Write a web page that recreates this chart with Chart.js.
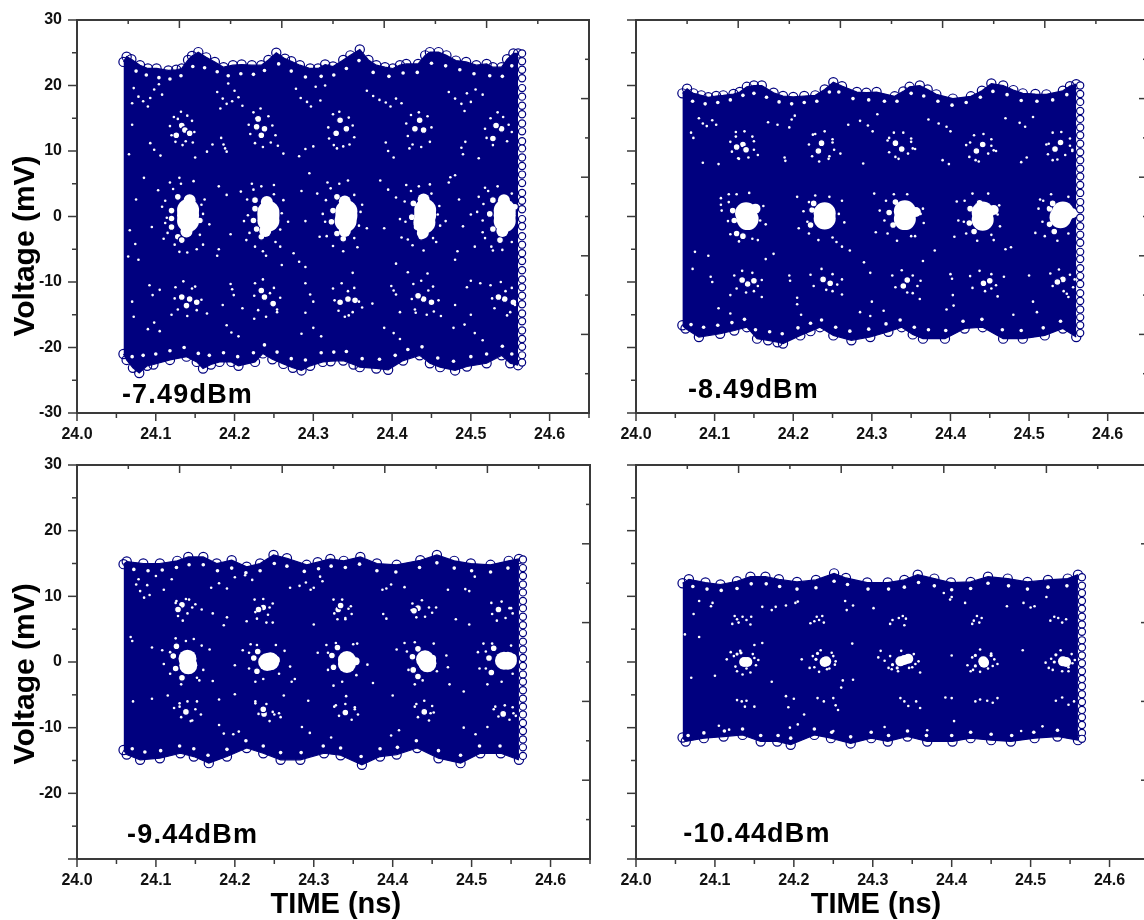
<!DOCTYPE html>
<html>
<head>
<meta charset="utf-8">
<title>Eye diagrams</title>
<script src="https://cdn.jsdelivr.net/npm/chart.js@4"></script>
<style>
  html, body { margin: 0; padding: 0; background: #fff; }
  #page { position: relative; width: 1144px; height: 920px; overflow: hidden; }
  canvas { position: absolute; }
</style>
</head>
<body>
<div id="page">
  <canvas id="c1" width="600" height="445" style="left:0;top:0"></canvas>
  <canvas id="c2" width="552" height="445" style="left:606px;top:0"></canvas>
  <canvas id="c3" width="600" height="475" style="left:0;top:445px"></canvas>
  <canvas id="c4" width="552" height="475" style="left:606px;top:445px"></canvas>
</div>
<script>
// axis ticks
const timeMajor = [24.0, 24.1, 24.2, 24.3, 24.4, 24.5, 24.6];
const timeMinor = [24.05, 24.15, 24.25, 24.35, 24.45, 24.55, 24.65];
const voltMajor = [-30, -20, -10, 0, 10, 20, 30];
const voltMinor = [-25, -15, -5, 5, 15, 25];
const otherMajor = [0, 1, 2, 3, 4, 5];
const otherMinor = [0.5, 1.5, 2.5, 3.5, 4.5];
const rightT = 24.565;

// -7.49 dBm
const p1Top = [[24.059,23.6],[24.063,24.4],[24.069,24.0],[24.080,23.1],[24.090,22.6],[24.101,22.6],[24.116,22.3],[24.126,22.4],[24.133,22.6],[24.141,23.9],[24.146,24.5],[24.154,25.1],[24.164,24.3],[24.175,23.6],[24.186,22.8],[24.198,23.1],[24.209,23.2],[24.222,23.1],[24.234,23.1],[24.243,23.9],[24.253,25.0],[24.264,24.1],[24.272,23.7],[24.283,23.1],[24.296,22.6],[24.306,22.6],[24.315,23.2],[24.325,22.9],[24.338,23.9],[24.347,24.6],[24.359,25.5],[24.370,23.9],[24.380,23.1],[24.391,22.8],[24.401,22.6],[24.410,23.1],[24.418,23.3],[24.433,23.3],[24.442,24.6],[24.448,25.1],[24.459,25.1],[24.469,24.6],[24.481,23.8],[24.494,23.6],[24.507,23.1],[24.520,23.3],[24.528,22.8],[24.539,22.8],[24.546,24.0],[24.554,24.9],[24.560,24.9]];
const p1Bottom = [[24.059,-21.0],[24.063,-21.9],[24.071,-23.1],[24.079,-23.9],[24.089,-22.8],[24.097,-22.6],[24.118,-21.9],[24.139,-21.4],[24.152,-22.2],[24.160,-23.2],[24.170,-22.6],[24.181,-22.2],[24.196,-22.2],[24.205,-22.8],[24.226,-22.2],[24.236,-20.9],[24.248,-21.8],[24.262,-22.5],[24.274,-23.1],[24.285,-23.5],[24.296,-22.8],[24.312,-22.2],[24.322,-22.1],[24.338,-22.0],[24.351,-22.6],[24.359,-23.0],[24.380,-23.2],[24.395,-23.4],[24.414,-22.0],[24.435,-21.2],[24.448,-22.4],[24.461,-23.0],[24.480,-23.5],[24.495,-22.9],[24.520,-22.4],[24.539,-21.2],[24.550,-22.4],[24.560,-22.7]];
const p1Right = [24.9,23.7,22.4,21.1,19.6,18.3,16.9,15.6,14.2,13.0,11.5,10.4,9.0,7.7,6.4,5.1,3.6,2.4,1.1,-0.4,-1.5,-3.0,-4.3,-5.6,-6.8,-8.2,-9.6,-10.8,-12.1,-13.4,-14.8,-16.0,-17.4,-18.7,-19.9,-21.2,-22.3];
const p1Eyes = [[24.141,1.0],[24.141,0.2],[24.141,-0.7],[24.243,0.7],[24.243,0.1],[24.243,-0.6],[24.342,0.8],[24.342,0.1],[24.341,-0.7],[24.442,1.0],[24.442,0.2],[24.441,-0.9],[24.543,0.9],[24.543,0.2],[24.543,-0.7]];
const p1Tips = [[24.143,2.5],[24.139,-2.3],[24.241,2.2],[24.239,-2.2],[24.340,2.3],[24.340,-2.2],[24.440,2.6],[24.439,-2.5],[24.542,2.5],[24.540,-2.2]];
const p1Rings = [[24.120,0.9],[24.120,-0.3],[24.120,-1.6],[24.128,-3.1],[24.133,-3.6],[24.128,3.0],[24.156,-0.6],[24.226,1.2],[24.224,-0.6],[24.228,-1.9],[24.234,-3.1],[24.226,2.5],[24.330,3.0],[24.325,0.9],[24.323,-0.8],[24.330,-2.6],[24.338,-3.4],[24.427,2.0],[24.425,-0.1],[24.431,-1.6],[24.437,-3.1],[24.528,2.5],[24.524,0.4],[24.528,-1.9],[24.537,-3.6],[24.556,1.5],[24.133,13.9],[24.126,12.4],[24.137,13.2],[24.143,12.7],[24.228,13.7],[24.238,13.4],[24.230,14.9],[24.234,12.4],[24.334,14.7],[24.342,13.4],[24.329,12.7],[24.429,13.4],[24.440,13.2],[24.435,14.7],[24.539,13.4],[24.528,11.9],[24.532,13.9],[24.143,-12.6],[24.133,-12.3],[24.152,-13.1],[24.139,-13.6],[24.238,-12.3],[24.249,-13.3],[24.234,-11.3],[24.344,-12.6],[24.334,-13.1],[24.353,-12.8],[24.440,-12.6],[24.450,-13.1],[24.433,-12.1],[24.543,-12.6],[24.554,-13.1],[24.535,-12.3]];
const p1Specks = [[24.072,19.6],[24.078,18.3],[24.084,17.6],[24.090,16.8],[24.093,18.1],[24.098,19.4],[24.104,20.2],[24.108,18.6],[24.070,17.3],[24.178,19.0],[24.185,18.0],[24.190,17.2],[24.197,17.6],[24.200,19.2],[24.205,18.2],[24.192,20.3],[24.182,16.5],[24.210,16.9],[24.278,19.5],[24.284,18.1],[24.292,17.5],[24.297,16.8],[24.303,19.8],[24.309,17.7],[24.315,20.0],[24.368,19.2],[24.376,18.4],[24.384,17.8],[24.392,17.4],[24.398,16.8],[24.405,18.0],[24.412,17.3],[24.472,19.0],[24.480,18.0],[24.488,17.2],[24.495,18.8],[24.500,17.5],[24.506,19.4],[24.515,18.6],[24.492,16.1],[24.186,11.0],[24.188,10.4],[24.190,9.9],[24.183,12.0],[24.098,10.2],[24.106,9.3],[24.093,11.2],[24.150,9.0],[24.165,9.9],[24.172,11.0],[24.290,10.3],[24.282,9.2],[24.300,10.7],[24.392,11.3],[24.395,10.0],[24.402,9.0],[24.488,10.5],[24.493,11.4],[24.490,9.5],[24.510,8.9],[24.255,10.8],[24.262,9.6],[24.103,4.0],[24.108,1.5],[24.112,-1.0],[24.110,-3.4],[24.118,5.2],[24.162,2.6],[24.168,-1.2],[24.160,-4.3],[24.130,5.9],[24.140,-5.5],[24.208,3.8],[24.212,-0.7],[24.215,-3.6],[24.222,5.0],[24.262,2.5],[24.268,-0.8],[24.258,-4.6],[24.240,-6.0],[24.250,4.8],[24.305,3.5],[24.312,0.4],[24.308,-3.1],[24.318,5.2],[24.362,1.8],[24.368,-1.8],[24.356,-4.7],[24.344,5.5],[24.405,2.9],[24.410,-0.4],[24.412,-3.2],[24.418,4.8],[24.460,1.6],[24.468,-0.7],[24.456,-3.9],[24.448,4.9],[24.472,5.2],[24.474,6.0],[24.510,3.0],[24.508,0.7],[24.515,-2.4],[24.518,4.4],[24.528,-5.2],[24.500,0.3],[24.505,-4.6],[24.065,-6.1],[24.074,-4.2],[24.078,-6.6],[24.178,-6.0],[24.180,-5.0],[24.260,-7.4],[24.275,-5.6],[24.282,-6.9],[24.290,-7.7],[24.405,-7.2],[24.420,-8.5],[24.445,-8.7],[24.480,-6.6],[24.483,-5.3],[24.350,-8.6],[24.092,-10.5],[24.096,-12.0],[24.105,-11.2],[24.195,-10.3],[24.197,-11.1],[24.199,-12.0],[24.290,-10.2],[24.296,-11.9],[24.300,-13.0],[24.399,-10.6],[24.402,-11.3],[24.405,-11.9],[24.495,-10.8],[24.500,-9.8],[24.512,-10.2],[24.120,-15.0],[24.165,-14.8],[24.225,-15.6],[24.254,-14.6],[24.340,-15.3],[24.362,-13.9],[24.430,-14.7],[24.462,-15.2],[24.090,-17.2],[24.098,-16.2],[24.105,-17.5],[24.190,-16.6],[24.196,-17.7],[24.205,-18.3],[24.285,-17.9],[24.300,-17.0],[24.310,-18.3],[24.390,-17.0],[24.402,-17.8],[24.410,-18.7],[24.478,-17.0],[24.492,-16.5],[24.505,-17.8],[24.515,-18.9]];
const p1Cluster = [[24.118,13.8],[24.120,12.4],[24.123,15.2],[24.125,11.4],[24.132,16.0],[24.134,10.9],[24.140,15.4],[24.146,14.6],[24.149,12.9],[24.147,11.3],[24.128,14.9],[24.138,11.5],[24.218,14.0],[24.220,12.6],[24.224,15.9],[24.226,11.2],[24.233,16.5],[24.236,10.6],[24.243,15.3],[24.248,13.9],[24.252,12.4],[24.246,11.3],[24.228,15.0],[24.319,13.6],[24.320,11.9],[24.325,15.6],[24.326,10.9],[24.333,16.0],[24.338,10.7],[24.345,15.1],[24.350,13.9],[24.352,12.1],[24.346,11.0],[24.330,10.4],[24.418,14.2],[24.420,12.3],[24.424,15.5],[24.426,11.0],[24.434,15.9],[24.437,10.6],[24.445,15.3],[24.450,13.6],[24.448,11.4],[24.422,10.4],[24.518,13.4],[24.520,12.0],[24.525,15.0],[24.528,10.9],[24.534,15.9],[24.541,15.2],[24.548,14.0],[24.546,11.5],[24.552,12.9],[24.125,-10.8],[24.124,-12.5],[24.128,-14.2],[24.135,-9.9],[24.140,-15.2],[24.150,-10.7],[24.158,-12.7],[24.152,-14.3],[24.146,-11.0],[24.226,-10.2],[24.225,-12.1],[24.230,-14.3],[24.236,-9.6],[24.240,-15.3],[24.250,-10.9],[24.258,-12.4],[24.254,-14.2],[24.245,-11.7],[24.325,-11.0],[24.327,-12.8],[24.332,-14.4],[24.336,-10.2],[24.345,-15.1],[24.352,-10.9],[24.358,-13.0],[24.350,-14.6],[24.344,-11.4],[24.427,-10.3],[24.425,-12.6],[24.429,-14.2],[24.437,-9.8],[24.444,-15.0],[24.452,-10.7],[24.459,-12.8],[24.453,-14.5],[24.446,-11.3],[24.525,-10.5],[24.527,-12.5],[24.530,-14.0],[24.538,-10.0],[24.546,-15.1],[24.552,-10.9],[24.556,-13.5],[24.550,-14.6],[24.544,-11.4],[24.112,2.4],[24.114,-0.2],[24.115,-2.5],[24.122,4.2],[24.124,-4.3],[24.132,5.0],[24.130,-5.4],[24.148,5.4],[24.152,-5.0],[24.160,0.4],[24.158,1.8],[24.156,-2.8],[24.216,2.6],[24.217,0.2],[24.219,-2.5],[24.224,4.1],[24.226,-4.6],[24.234,4.6],[24.236,-5.3],[24.250,3.4],[24.252,-3.9],[24.260,0.5],[24.258,-2.0],[24.316,2.5],[24.315,-0.8],[24.317,-3.0],[24.322,4.3],[24.325,-4.5],[24.333,5.0],[24.338,-5.3],[24.352,3.3],[24.352,-3.3],[24.360,0.7],[24.358,-1.4],[24.416,2.3],[24.417,-0.8],[24.420,-3.5],[24.424,3.9],[24.426,-4.4],[24.434,4.6],[24.440,-5.2],[24.450,3.5],[24.452,-3.3],[24.458,0.3],[24.461,-1.4],[24.516,1.9],[24.515,-0.6],[24.518,-3.3],[24.522,3.9],[24.526,-4.6],[24.534,4.6],[24.540,-5.1],[24.552,3.5],[24.552,-3.9],[24.070,14.0],[24.066,9.5],[24.075,2.6],[24.067,-2.1],[24.085,5.9],[24.095,-1.6],[24.180,4.6],[24.190,3.3],[24.195,-2.7],[24.285,3.9],[24.290,-0.7],[24.295,6.6],[24.385,5.5],[24.390,-1.8],[24.395,4.1],[24.485,2.6],[24.490,-1.5],[24.480,6.3],[24.480,-13.5],[24.070,-13.0],[24.072,-15.3],[24.185,-13.5],[24.210,-14.0],[24.290,-14.7],[24.375,-13.3],[24.410,-14.6],[24.500,-15.0]];
const p1Rim = [[24.075,22.2],[24.088,21.6],[24.104,21.2],[24.118,21.0],[24.132,21.5],[24.147,22.9],[24.162,22.7],[24.178,22.1],[24.192,21.5],[24.208,21.8],[24.224,21.7],[24.238,22.3],[24.256,23.3],[24.272,22.2],[24.290,21.3],[24.310,21.4],[24.326,21.6],[24.342,22.6],[24.358,23.8],[24.376,22.0],[24.396,21.4],[24.414,21.9],[24.432,22.0],[24.450,23.4],[24.468,23.0],[24.486,22.4],[24.504,21.8],[24.524,21.5],[24.540,21.4],[24.552,23.0],[24.070,-21.4],[24.084,-21.2],[24.100,-21.0],[24.118,-20.5],[24.136,-20.0],[24.154,-20.9],[24.168,-21.2],[24.186,-20.8],[24.204,-21.4],[24.224,-20.8],[24.238,-19.6],[24.254,-20.7],[24.272,-21.7],[24.290,-21.9],[24.310,-20.8],[24.326,-20.7],[24.342,-20.6],[24.362,-21.7],[24.384,-21.8],[24.404,-21.2],[24.420,-20.3],[24.438,-19.9],[24.458,-21.6],[24.478,-22.1],[24.500,-21.4],[24.520,-21.0],[24.540,-19.8],[24.552,-21.0]];

// -8.49 dBm
const p2Top = [[24.059,18.8],[24.065,19.5],[24.073,18.8],[24.083,18.5],[24.092,18.2],[24.102,18.4],[24.111,18.5],[24.124,18.7],[24.132,19.0],[24.141,19.8],[24.150,20.0],[24.160,20.0],[24.175,18.9],[24.187,18.4],[24.200,18.25],[24.214,18.4],[24.228,18.5],[24.240,19.4],[24.251,20.5],[24.262,19.9],[24.281,19.0],[24.293,18.9],[24.306,19.0],[24.329,18.35],[24.340,19.1],[24.348,19.8],[24.361,20.0],[24.371,19.4],[24.382,18.65],[24.403,18.0],[24.426,18.35],[24.440,19.2],[24.452,20.3],[24.467,20.0],[24.480,19.3],[24.492,18.8],[24.508,18.7],[24.522,18.65],[24.543,19.2],[24.552,19.9],[24.560,20.2]];
const p2Bottom = [[24.059,-16.6],[24.063,-17.1],[24.080,-18.4],[24.107,-17.9],[24.125,-17.4],[24.141,-16.9],[24.154,-18.65],[24.168,-18.9],[24.180,-19.2],[24.187,-19.4],[24.209,-18.15],[24.222,-17.5],[24.234,-16.9],[24.251,-18.15],[24.274,-18.9],[24.298,-18.4],[24.321,-17.6],[24.338,-16.9],[24.352,-18.0],[24.365,-18.65],[24.393,-18.65],[24.418,-17.1],[24.441,-16.9],[24.467,-18.65],[24.492,-18.65],[24.520,-18.15],[24.543,-17.1],[24.560,-18.4]];
const p2Right = [20.0,18.7,17.5,16.1,14.9,13.6,12.4,11.1,9.8,8.6,7.3,6.1,4.8,3.6,2.2,1.1,-0.2,-1.5,-2.8,-4.0,-5.4,-6.5,-7.9,-9.1,-10.3,-11.7,-12.9,-14.2,-15.4,-16.6,-17.8];
const p2Eyes = [[24.140,0.5],[24.142,-0.4],[24.240,0.5],[24.240,-0.3],[24.342,0.8],[24.342,-0.4],[24.441,0.6],[24.441,-0.5],[24.543,0.6],[24.540,-0.1]];
const p2Tips = [[24.152,1.2],[24.455,1.0],[24.356,0.7],[24.555,0.5]];
const p2Rings = [[24.123,0.9],[24.125,-0.6],[24.128,-2.6],[24.136,-3.0],[24.224,1.0],[24.222,-1.3],[24.226,2.0],[24.322,0.6],[24.327,-1.3],[24.330,2.2],[24.425,1.2],[24.424,-1.0],[24.430,-2.3],[24.437,2.1],[24.526,1.2],[24.526,-1.2],[24.532,-2.3],[24.530,2.0],[24.136,11.0],[24.128,10.6],[24.140,10.2],[24.232,10.0],[24.236,11.2],[24.330,11.2],[24.338,10.3],[24.433,10.0],[24.441,11.0],[24.533,10.3],[24.540,11.3],[24.142,-10.3],[24.135,-9.7],[24.150,-9.8],[24.238,-9.6],[24.247,-10.2],[24.345,-9.7],[24.340,-10.6],[24.442,-10.2],[24.450,-9.8],[24.543,-9.6],[24.536,-10.0]];
const p2Specks = [[24.080,15.0],[24.085,14.2],[24.090,13.8],[24.097,14.7],[24.102,14.0],[24.070,12.8],[24.073,12.0],[24.168,14.4],[24.180,14.0],[24.195,13.6],[24.198,14.8],[24.202,15.4],[24.270,14.0],[24.285,14.6],[24.295,13.9],[24.301,13.0],[24.307,15.6],[24.372,14.8],[24.385,14.2],[24.395,13.7],[24.400,13.0],[24.470,15.0],[24.488,14.3],[24.495,13.7],[24.505,15.2],[24.127,12.2],[24.150,11.5],[24.130,8.9],[24.155,9.4],[24.225,12.5],[24.250,11.3],[24.245,8.8],[24.260,9.6],[24.322,12.0],[24.350,11.4],[24.330,9.1],[24.355,10.3],[24.425,11.3],[24.452,11.8],[24.432,8.6],[24.458,10.0],[24.525,11.1],[24.552,11.9],[24.530,8.6],[24.555,10.2],[24.085,8.2],[24.105,8.0],[24.190,8.5],[24.189,9.0],[24.289,8.1],[24.390,8.6],[24.398,8.0],[24.490,8.3],[24.497,9.0],[24.108,2.8],[24.108,1.8],[24.109,0.9],[24.118,3.4],[24.162,1.6],[24.165,-1.2],[24.155,-3.6],[24.205,3.0],[24.213,0.8],[24.207,-1.8],[24.262,2.4],[24.265,-0.9],[24.255,-3.9],[24.303,3.5],[24.310,0.9],[24.305,-2.4],[24.365,1.2],[24.366,-1.0],[24.355,-3.0],[24.408,2.3],[24.410,-0.6],[24.405,-3.1],[24.462,1.7],[24.463,-1.5],[24.455,-3.6],[24.514,2.6],[24.512,1.2],[24.508,-2.5],[24.075,-5.4],[24.072,-8.0],[24.092,-6.0],[24.165,-6.5],[24.175,-5.7],[24.262,-4.6],[24.272,-5.2],[24.290,-7.0],[24.365,-6.8],[24.380,-5.2],[24.470,-5.0],[24.477,-4.7],[24.095,-9.2],[24.097,-10.0],[24.195,-9.0],[24.196,-9.8],[24.298,-8.6],[24.400,-8.8],[24.402,-9.5],[24.500,-9.0],[24.120,-12.0],[24.160,-12.3],[24.205,-12.4],[24.262,-11.9],[24.300,-13.0],[24.361,-12.6],[24.403,-12.0],[24.460,-12.2],[24.505,-13.0],[24.550,-12.3],[24.105,-14.0],[24.120,-14.8],[24.205,-13.4],[24.210,-15.0],[24.285,-14.6],[24.298,-15.2],[24.315,-14.4],[24.395,-14.2],[24.404,-13.6],[24.480,-15.0],[24.510,-14.6]];
const p2Cluster = [[24.120,11.4],[24.122,9.9],[24.127,12.9],[24.131,8.8],[24.138,13.0],[24.143,9.0],[24.148,12.2],[24.150,10.2],[24.220,11.0],[24.224,9.2],[24.228,12.6],[24.233,8.4],[24.240,13.0],[24.246,9.2],[24.250,11.8],[24.252,10.2],[24.320,11.6],[24.322,9.8],[24.328,12.8],[24.334,8.8],[24.340,12.8],[24.346,9.6],[24.350,11.9],[24.352,10.4],[24.420,10.9],[24.424,9.1],[24.430,12.4],[24.436,8.4],[24.442,12.6],[24.448,9.6],[24.452,10.8],[24.455,10.1],[24.522,11.0],[24.524,9.5],[24.530,12.8],[24.536,8.7],[24.541,12.9],[24.546,9.4],[24.552,10.8],[24.555,10.0],[24.125,-9.0],[24.128,-11.0],[24.135,-8.3],[24.140,-11.6],[24.148,-8.6],[24.155,-10.6],[24.150,-11.4],[24.160,-9.7],[24.222,-8.9],[24.226,-10.6],[24.236,-8.0],[24.242,-11.2],[24.250,-8.8],[24.256,-10.4],[24.250,-11.4],[24.262,-9.6],[24.326,-9.0],[24.330,-10.8],[24.338,-8.2],[24.345,-11.6],[24.352,-9.0],[24.358,-10.6],[24.352,-11.7],[24.362,-9.8],[24.425,-9.1],[24.428,-10.9],[24.437,-8.3],[24.444,-11.4],[24.452,-8.8],[24.458,-10.5],[24.452,-11.0],[24.468,-9.2],[24.527,-8.7],[24.530,-10.6],[24.538,-8.1],[24.544,-11.4],[24.552,-8.9],[24.556,-10.8],[24.548,-11.8],[24.558,-9.6],[24.118,2.2],[24.117,-0.7],[24.120,-2.7],[24.128,3.4],[24.131,-3.8],[24.144,3.6],[24.148,-3.4],[24.158,-0.6],[24.220,2.2],[24.218,-0.8],[24.220,-2.6],[24.228,3.2],[24.232,-3.6],[24.246,3.0],[24.250,-3.2],[24.258,0.4],[24.318,2.4],[24.316,-0.6],[24.320,-2.6],[24.328,3.4],[24.332,-3.7],[24.345,3.4],[24.350,-3.0],[24.362,0.4],[24.418,2.4],[24.417,-0.8],[24.420,-2.6],[24.428,3.5],[24.434,-3.7],[24.448,3.5],[24.452,-2.8],[24.460,0.3],[24.518,2.4],[24.517,-0.8],[24.520,-3.0],[24.528,3.4],[24.536,-3.7],[24.550,3.0],[24.550,-2.6]];
const p2Rim = [[24.072,17.6],[24.088,17.2],[24.104,17.4],[24.120,17.8],[24.136,18.5],[24.150,18.8],[24.166,18.2],[24.182,17.5],[24.198,17.2],[24.214,17.4],[24.230,17.6],[24.246,19.0],[24.258,19.0],[24.276,18.0],[24.296,17.8],[24.316,17.6],[24.332,17.6],[24.350,18.8],[24.366,18.4],[24.384,17.6],[24.402,17.0],[24.420,17.4],[24.438,18.2],[24.454,19.1],[24.472,18.6],[24.490,17.7],[24.510,17.6],[24.530,17.8],[24.548,18.6],[24.070,-16.5],[24.086,-16.9],[24.104,-16.6],[24.122,-16.2],[24.138,-15.7],[24.152,-17.3],[24.170,-17.6],[24.186,-17.9],[24.206,-17.0],[24.222,-16.3],[24.236,-15.8],[24.254,-16.9],[24.272,-17.5],[24.296,-17.2],[24.318,-16.4],[24.336,-15.8],[24.354,-16.9],[24.372,-17.3],[24.394,-17.4],[24.416,-16.0],[24.440,-15.7],[24.466,-17.3],[24.490,-17.4],[24.518,-17.0],[24.540,-16.0]];

// -9.44 dBm
const p3Top = [[24.059,14.9],[24.063,15.3],[24.084,15.0],[24.105,15.0],[24.127,15.4],[24.141,16.0],[24.160,16.0],[24.177,15.0],[24.196,15.5],[24.215,14.5],[24.232,15.0],[24.249,16.3],[24.266,15.8],[24.291,14.8],[24.305,15.2],[24.321,15.7],[24.338,15.4],[24.359,16.0],[24.380,15.0],[24.405,14.8],[24.435,15.5],[24.456,16.3],[24.478,15.4],[24.499,15.0],[24.524,14.8],[24.547,15.4],[24.560,15.7]];
const p3Bottom = [[24.059,-13.4],[24.063,-14.1],[24.080,-14.9],[24.105,-14.65],[24.131,-13.9],[24.148,-14.4],[24.167,-15.4],[24.190,-14.4],[24.215,-13.1],[24.236,-13.9],[24.258,-14.9],[24.283,-14.9],[24.313,-13.9],[24.334,-14.2],[24.361,-15.66],[24.384,-14.4],[24.405,-14.1],[24.431,-13.1],[24.458,-14.65],[24.486,-15.4],[24.511,-13.9],[24.537,-13.9],[24.560,-14.9]];
const p3Right = [15.6,14.3,13.1,11.8,10.6,9.3,8.2,6.9,5.6,4.4,3.1,1.9,0.6,-0.6,-1.9,-3.0,-4.3,-5.6,-6.8,-8.0,-9.3,-10.5,-11.8,-13.0,-14.3];
const p3Eyes = [[24.140,0.5],[24.141,-0.5],[24.241,0.0],[24.245,0.1],[24.342,0.3],[24.342,-0.3],[24.441,0.4],[24.444,-0.2],[24.541,0.2],[24.546,0.2]];
const p3Tips = [[24.252,0.3],[24.353,0.1],[24.552,0.6],[24.450,0.5]];
const p3Rings = [[24.122,0.9],[24.125,-1.0],[24.133,-2.4],[24.126,2.4],[24.224,0.6],[24.228,-1.4],[24.229,1.6],[24.323,1.0],[24.325,-0.8],[24.330,2.2],[24.425,0.8],[24.426,-1.2],[24.432,-2.2],[24.432,2.0],[24.522,0.6],[24.525,-1.6],[24.528,2.1],[24.133,8.7],[24.128,8.0],[24.236,8.3],[24.230,8.0],[24.331,8.0],[24.334,8.6],[24.432,8.2],[24.427,7.8],[24.534,8.0],[24.138,-7.6],[24.237,-7.9],[24.236,-7.2],[24.340,-7.7],[24.440,-7.6],[24.540,-7.9]];
const p3Specks = [[24.075,11.8],[24.080,10.8],[24.089,11.7],[24.092,10.2],[24.085,9.8],[24.078,12.6],[24.100,13.1],[24.120,12.6],[24.110,11.0],[24.170,11.3],[24.180,12.0],[24.190,11.2],[24.200,12.9],[24.213,13.2],[24.222,12.5],[24.270,11.3],[24.282,11.6],[24.290,12.1],[24.296,11.0],[24.300,11.3],[24.311,12.3],[24.308,13.0],[24.387,11.0],[24.392,11.2],[24.398,11.8],[24.415,11.4],[24.470,11.0],[24.492,11.1],[24.497,10.8],[24.504,13.0],[24.125,9.0],[24.138,9.6],[24.150,8.8],[24.225,9.5],[24.248,8.9],[24.325,9.5],[24.347,8.5],[24.425,8.9],[24.455,8.3],[24.525,9.0],[24.550,8.2],[24.158,8.0],[24.172,7.4],[24.190,6.8],[24.186,5.6],[24.215,6.2],[24.248,6.0],[24.300,5.7],[24.340,6.5],[24.388,7.3],[24.392,6.6],[24.480,6.5],[24.497,5.7],[24.068,3.8],[24.070,3.2],[24.095,2.2],[24.108,1.8],[24.138,3.2],[24.158,2.5],[24.168,1.9],[24.160,-1.2],[24.210,1.8],[24.220,2.7],[24.263,1.7],[24.270,-0.7],[24.200,-0.5],[24.305,1.4],[24.316,2.6],[24.355,2.8],[24.368,-0.4],[24.405,1.9],[24.415,2.9],[24.468,1.0],[24.470,-0.8],[24.508,1.5],[24.515,2.8],[24.110,-0.3],[24.155,-2.8],[24.172,-2.9],[24.226,-3.0],[24.272,-3.0],[24.276,-2.6],[24.325,-3.6],[24.375,-3.2],[24.428,-3.4],[24.472,-3.4],[24.510,-1.0],[24.520,-3.4],[24.095,-5.6],[24.115,-5.1],[24.180,-5.7],[24.200,-4.9],[24.262,-5.1],[24.293,-5.9],[24.341,-5.2],[24.400,-5.1],[24.490,-4.5],[24.071,-6.0],[24.123,-7.0],[24.130,-6.8],[24.152,-6.0],[24.157,-8.0],[24.226,-6.3],[24.250,-8.0],[24.258,-8.4],[24.326,-6.8],[24.352,-7.2],[24.430,-6.4],[24.448,-7.8],[24.528,-7.2],[24.553,-7.8],[24.180,-9.6],[24.186,-10.9],[24.198,-11.0],[24.205,-10.6],[24.285,-9.9],[24.295,-10.8],[24.322,-11.5],[24.398,-11.2],[24.408,-10.4],[24.490,-10.0],[24.505,-11.0],[24.520,-9.9]];
const p3Cluster = [[24.126,9.3],[24.128,7.0],[24.134,6.3],[24.140,7.4],[24.142,9.5],[24.146,8.3],[24.226,7.6],[24.228,6.6],[24.236,9.6],[24.240,6.0],[24.244,8.3],[24.242,7.2],[24.326,7.4],[24.330,6.5],[24.336,9.5],[24.340,6.7],[24.344,8.1],[24.348,7.3],[24.424,7.9],[24.430,6.8],[24.437,9.4],[24.441,6.9],[24.446,8.3],[24.450,7.5],[24.526,7.3],[24.532,6.3],[24.538,9.2],[24.543,6.7],[24.548,8.2],[24.552,7.4],[24.130,-6.3],[24.132,-8.4],[24.140,-6.0],[24.146,-8.9],[24.150,-7.2],[24.144,-9.0],[24.226,-6.0],[24.230,-7.9],[24.240,-6.4],[24.248,-7.6],[24.244,-9.0],[24.256,-7.8],[24.328,-6.6],[24.332,-8.2],[24.340,-6.4],[24.348,-8.8],[24.352,-6.9],[24.356,-8.0],[24.428,-6.8],[24.432,-8.4],[24.440,-5.9],[24.446,-8.9],[24.450,-6.7],[24.452,-7.7],[24.530,-6.8],[24.534,-8.3],[24.542,-6.6],[24.548,-8.8],[24.552,-6.9],[24.556,-8.2],[24.118,1.5],[24.118,-1.8],[24.125,3.6],[24.132,-3.4],[24.148,3.5],[24.152,-2.4],[24.218,1.4],[24.218,-1.0],[24.228,2.6],[24.236,-2.6],[24.252,2.6],[24.256,-1.8],[24.318,1.4],[24.318,-1.2],[24.328,2.9],[24.336,-3.0],[24.350,2.7],[24.354,-2.0],[24.418,1.6],[24.420,-1.2],[24.428,3.0],[24.438,-2.8],[24.452,2.8],[24.456,-1.4],[24.518,1.6],[24.518,-1.0],[24.526,2.8],[24.538,-3.0],[24.550,2.5],[24.552,-1.8]];
const p3Rim = [[24.072,14.1],[24.090,13.9],[24.108,14.0],[24.126,14.4],[24.142,14.8],[24.160,14.8],[24.178,13.9],[24.196,14.3],[24.214,13.6],[24.232,13.9],[24.250,15.0],[24.266,14.6],[24.288,13.8],[24.306,14.2],[24.322,14.6],[24.340,14.4],[24.358,14.9],[24.380,13.9],[24.404,13.7],[24.434,14.4],[24.456,15.1],[24.478,14.3],[24.500,13.9],[24.524,13.7],[24.546,14.3],[24.070,-13.2],[24.086,-13.7],[24.106,-13.5],[24.130,-12.8],[24.148,-13.2],[24.166,-14.2],[24.190,-13.3],[24.214,-12.0],[24.236,-12.8],[24.258,-13.8],[24.284,-13.8],[24.312,-12.8],[24.334,-13.1],[24.360,-14.4],[24.384,-13.2],[24.406,-13.0],[24.430,-12.0],[24.458,-13.5],[24.486,-14.2],[24.510,-12.8],[24.536,-12.8]];

// -10.44 dBm
const p4Top = [[24.059,12.0],[24.067,12.6],[24.088,12.1],[24.107,11.8],[24.128,12.3],[24.145,13.0],[24.164,13.0],[24.181,12.6],[24.204,12.2],[24.228,12.5],[24.251,13.5],[24.266,12.8],[24.293,12.1],[24.319,12.1],[24.340,12.5],[24.357,13.3],[24.378,12.7],[24.399,12.1],[24.424,12.2],[24.446,13.0],[24.471,12.7],[24.496,12.2],[24.522,12.5],[24.547,12.7],[24.560,13.3]];
const p4Bottom = [[24.059,-11.5],[24.063,-12.1],[24.086,-11.6],[24.111,-11.35],[24.135,-11.1],[24.158,-12.1],[24.179,-12.1],[24.196,-12.6],[24.226,-11.1],[24.247,-11.6],[24.272,-12.4],[24.298,-11.6],[24.319,-12.1],[24.344,-11.35],[24.369,-12.1],[24.401,-12.1],[24.424,-11.6],[24.450,-11.9],[24.475,-12.1],[24.505,-11.6],[24.534,-11.35],[24.560,-11.9]];
const p4Right = [12.9,11.6,10.5,9.3,8.1,6.9,5.7,4.6,3.3,2.2,1.0,-0.2,-1.4,-2.6,-3.7,-4.9,-6.1,-7.3,-8.4,-9.6,-10.8,-11.7];
const p4Eyes = [[24.137,0.0],[24.141,0.0],[24.239,0.0],[24.241,0.1],[24.335,0.1],[24.340,0.3],[24.345,0.5],[24.440,0.1],[24.441,-0.1],[24.541,0.1],[24.545,0.0]];
const p4Tips = [[24.128,1.2],[24.133,1.4],[24.230,1.3],[24.228,0.4],[24.325,-0.4],[24.331,-0.9],[24.430,1.0],[24.430,-0.6],[24.450,1.0],[24.532,1.1],[24.530,0.0]];
const p4Rings = [];
const p4Specks = [[24.080,9.3],[24.097,9.0],[24.095,8.5],[24.073,7.3],[24.125,7.0],[24.128,6.5],[24.130,6.0],[24.135,6.9],[24.140,6.4],[24.145,5.7],[24.122,5.8],[24.146,6.9],[24.226,6.2],[24.229,6.9],[24.232,6.4],[24.236,7.0],[24.221,5.9],[24.238,6.0],[24.325,6.4],[24.333,6.7],[24.338,7.0],[24.342,6.6],[24.322,5.8],[24.340,5.6],[24.428,6.3],[24.432,7.0],[24.435,6.0],[24.426,5.8],[24.438,6.7],[24.525,6.3],[24.530,6.9],[24.535,6.7],[24.540,6.0],[24.545,6.5],[24.520,9.9],[24.470,8.5],[24.491,9.0],[24.500,8.3],[24.505,8.5],[24.390,10.5],[24.398,9.5],[24.400,9.9],[24.417,9.0],[24.265,9.3],[24.275,8.6],[24.267,7.9],[24.301,8.2],[24.177,8.4],[24.190,8.6],[24.205,9.2],[24.202,9.0],[24.160,8.4],[24.172,7.9],[24.062,4.2],[24.080,3.8],[24.150,2.6],[24.160,2.9],[24.120,1.5],[24.115,0.4],[24.128,-1.4],[24.135,-1.9],[24.145,-1.6],[24.150,0.6],[24.155,0.3],[24.210,0.4],[24.220,-0.9],[24.232,-1.5],[24.245,-1.0],[24.250,0.9],[24.253,0.1],[24.307,0.7],[24.315,0.2],[24.320,-0.9],[24.332,-1.4],[24.350,-0.8],[24.358,0.1],[24.360,-1.6],[24.420,-0.5],[24.424,-1.4],[24.436,-1.5],[24.452,-0.6],[24.458,-0.3],[24.519,-0.1],[24.523,-0.9],[24.540,-1.4],[24.548,-1.4],[24.553,-0.2],[24.310,1.7],[24.274,2.8],[24.400,1.0],[24.490,1.8],[24.070,-2.4],[24.100,-2.1],[24.172,-3.0],[24.262,-2.8],[24.275,-2.7],[24.260,-3.9],[24.128,-5.8],[24.134,-6.0],[24.140,-5.9],[24.138,-6.8],[24.150,-6.8],[24.230,-5.5],[24.238,-6.0],[24.250,-5.5],[24.253,-6.6],[24.256,-7.3],[24.335,-5.5],[24.340,-6.0],[24.345,-6.7],[24.355,-6.0],[24.360,-7.0],[24.430,-6.0],[24.436,-5.7],[24.445,-5.9],[24.452,-6.2],[24.458,-5.5],[24.532,-5.9],[24.540,-5.4],[24.548,-6.5],[24.555,-6.0],[24.190,-5.2],[24.193,-6.9],[24.200,-5.6],[24.392,-5.4],[24.400,-5.5],[24.213,-8.0],[24.105,-9.7],[24.118,-10.3],[24.195,-10.0],[24.205,-9.5],[24.250,-10.5],[24.315,-9.9],[24.369,-10.4],[24.403,-9.0],[24.488,-10.5],[24.515,-9.8]];
const p4Cluster = [[24.124,0.9],[24.126,-0.7],[24.132,1.7],[24.140,-1.0],[24.148,1.2],[24.152,-0.5],[24.224,0.9],[24.226,-0.8],[24.234,1.8],[24.242,-1.1],[24.248,1.4],[24.252,-0.4],[24.322,0.9],[24.324,-1.1],[24.336,1.7],[24.346,-0.9],[24.352,1.2],[24.354,-0.3],[24.426,0.7],[24.427,-1.2],[24.436,1.9],[24.446,-1.0],[24.450,1.3],[24.454,0.4],[24.526,0.5],[24.528,-1.2],[24.538,1.8],[24.548,-0.8],[24.552,1.2],[24.556,0.3]];
const p4Rim = [[24.072,11.5],[24.090,11.1],[24.108,10.9],[24.128,11.2],[24.146,11.9],[24.165,11.9],[24.182,11.5],[24.204,11.1],[24.228,11.3],[24.251,12.3],[24.268,11.8],[24.294,11.1],[24.320,11.1],[24.340,11.4],[24.358,12.1],[24.378,11.6],[24.400,11.0],[24.424,11.2],[24.446,12.0],[24.472,11.6],[24.496,11.1],[24.522,11.4],[24.546,11.6],[24.066,-11.2],[24.086,-10.8],[24.112,-10.5],[24.135,-10.2],[24.158,-11.2],[24.180,-11.2],[24.196,-11.6],[24.226,-10.2],[24.248,-10.7],[24.272,-11.4],[24.298,-10.7],[24.320,-11.2],[24.344,-10.5],[24.368,-11.2],[24.400,-11.2],[24.424,-10.7],[24.450,-11.0],[24.476,-11.2],[24.504,-10.7],[24.534,-10.4]];

const navy = '#00007f';
const axisColor = '#3a3a3a';
const textColor = '#111';

const toPoints = pts => pts.map(([x, y]) => ({ x, y }));

// tick marks: left and bottom go out, top and right go in
const tickMarks = {
    id: 'tickMarks',
    afterDraw(chart) {
        const { ctx, chartArea: a, scales } = chart;
        const mark = (x1, y1, x2, y2) => {
            ctx.beginPath();
            ctx.moveTo(x1, y1);
            ctx.lineTo(x2, y2);
            ctx.stroke();
        };
        ctx.save();
        ctx.strokeStyle = axisColor;
        ctx.lineWidth = 1.5;
        timeMajor.forEach(v => { const x = scales.x.getPixelForValue(v); mark(x, a.bottom, x, a.bottom + 8); });
        timeMinor.forEach(v => { const x = scales.x.getPixelForValue(v); mark(x, a.bottom, x, a.bottom + 5); });
        voltMajor.forEach(v => { const y = scales.y.getPixelForValue(v); mark(a.left - 9, y, a.left, y); });
        voltMinor.forEach(v => { const y = scales.y.getPixelForValue(v); mark(a.left - 5, y, a.left, y); });
        otherMajor.forEach(v => {
            const x = scales.x2.getPixelForValue(v), y = scales.y2.getPixelForValue(v);
            mark(x, a.top, x, a.top + 8);
            mark(a.right - 8, y, a.right, y);
        });
        otherMinor.forEach(v => {
            const x = scales.x2.getPixelForValue(v), y = scales.y2.getPixelForValue(v);
            mark(x, a.top, x, a.top + 4);
            mark(a.right - 4, y, a.right, y);
        });
        ctx.restore();
    }
};

// power label and the axis titles
const panelText = {
    id: 'panelText',
    afterDraw(chart, args, opts) {
        const { ctx, scales } = chart;
        ctx.save();
        ctx.fillStyle = '#000';
        ctx.textBaseline = 'alphabetic';
        ctx.textAlign = 'left';
        ctx.letterSpacing = '1.2px';
        ctx.font = 'bold 27px "Liberation Sans"';
        ctx.fillText(opts.power, scales.x.getPixelForValue(opts.powerAt[0]), scales.y.getPixelForValue(opts.powerAt[1]));
        ctx.letterSpacing = '0px';
        ctx.font = 'bold 29px "Liberation Sans"';
        ctx.textAlign = 'center';
        if (opts.timeAt) {
            ctx.fillText('TIME (ns)', scales.x.getPixelForValue(opts.timeAt), chart.height - 7);
        }
        if (opts.voltAt !== undefined) {
            ctx.font = 'bold 30px "Liberation Sans"';
            ctx.translate(34, scales.y.getPixelForValue(opts.voltAt));
            ctx.rotate(-Math.PI / 2);
            ctx.fillText('Voltage (mV)', 0, 0);
        }
        ctx.restore();
    }
};

function drawPanel(id, d) {
    const canvas = document.getElementById(id);
    const plotLeft = d.left ? 77 : 30;
    const fixedSide = (scale, size) => { scale.width = size; scale.paddingTop = 0; scale.paddingBottom = 0; };
    const fixedEnd = (scale, size) => { scale.height = size; scale.paddingLeft = 0; scale.paddingRight = 0; };
    new Chart(canvas, {
        type: 'scatter',
        data: {
            datasets: [
                { data: toPoints(d.top), showLine: true, fill: '+1', backgroundColor: navy, borderColor: navy, borderWidth: 1.2,
                  pointRadius: 4.6, pointBorderWidth: 1.2, pointBorderColor: navy, pointBackgroundColor: 'rgba(0,0,0,0)', order: 9 },
                { data: toPoints(d.bottom), showLine: true, fill: false, borderColor: navy, borderWidth: 1.2,
                  pointRadius: 4.6, pointBorderWidth: 1.2, pointBorderColor: navy, pointBackgroundColor: 'rgba(0,0,0,0)', order: 8 },
                { data: toPoints(d.rim), pointRadius: 1.8, pointBorderWidth: 0, pointBackgroundColor: '#fff', order: 7 },
                { data: toPoints(d.rings), pointRadius: 3.4, pointBorderWidth: 1.2, pointBorderColor: navy, pointBackgroundColor: '#fff', order: 6 },
                { data: toPoints(d.specks), pointRadius: 1.3, pointBorderWidth: 0, pointBackgroundColor: '#fff', order: 5 },
                { data: toPoints(d.eyes), pointRadius: d.eyeRadius, pointBorderWidth: 0, pointBackgroundColor: '#fff', order: 4 },
                { data: toPoints(d.tips), pointRadius: d.tipRadius, pointBorderWidth: 0, pointBackgroundColor: '#fff', order: 3 },
                { data: d.right.map(v => ({ x: rightT, y: v })), pointRadius: 3.6, pointBorderWidth: 1.2, pointBorderColor: navy, pointBackgroundColor: '#fff', order: 2 }
            ]
        },
        options: {
            responsive: false,
            animation: false,
            layout: { padding: 0 },
            plugins: {
                legend: { display: false },
                tooltip: { enabled: false },
                panelText: { power: d.power, powerAt: d.powerAt, timeAt: d.timeAt, voltAt: d.voltAt }
            },
            scales: {
                x: {
                    type: 'linear', position: 'bottom', min: 24, max: 24.65,
                    grid: { display: false, drawTicks: false },
                    border: { color: axisColor, width: 2 },
                    ticks: {
                        stepSize: 0.1, includeBounds: false, autoSkip: false, maxRotation: 0, padding: 12,
                        color: textColor, font: { family: 'Liberation Sans', size: 16, weight: 'bold' },
                        callback: v => v.toFixed(1)
                    },
                    afterFit: s => fixedEnd(s, canvas.height - d.bottomAt)
                },
                y: {
                    type: 'linear', position: 'left', min: -30, max: 30,
                    grid: { display: false, drawTicks: false },
                    border: { color: axisColor, width: 2 },
                    ticks: {
                        display: d.left, stepSize: 10, autoSkip: false, padding: 15,
                        color: textColor, font: { family: 'Liberation Sans', size: 16, weight: 'bold' },
                        callback: v => (d.hideBottomVolt && v === -30 ? '' : v)
                    },
                    afterFit: s => fixedSide(s, plotLeft)
                },
                x2: {
                    type: 'linear', position: 'top', min: 0, max: 5,
                    grid: { display: false, drawTicks: false },
                    border: { color: axisColor, width: 2 },
                    ticks: { display: false },
                    afterFit: s => fixedEnd(s, 20)
                },
                y2: {
                    type: 'linear', position: 'right', min: 0, max: 5,
                    reverse: true,
                    grid: { display: false, drawTicks: false },
                    border: { color: axisColor, width: 2 },
                    ticks: { display: false },
                    afterFit: s => fixedSide(s, canvas.width - plotLeft - 513)
                }
            }
        },
        plugins: [tickMarks, panelText]
    });
}

drawPanel('c1', { left: true, bottomAt: 413, top: p1Top, bottom: p1Bottom, right: p1Right, eyes: p1Eyes, tips: p1Tips, rings: p1Rings, specks: p1Specks.concat(p1Cluster), rim: p1Rim,
    eyeRadius: 11, tipRadius: 6, power: '-7.49dBm', powerAt: [24.057, -28.45], voltAt: -4.5 });
drawPanel('c2', { left: false, bottomAt: 413, top: p2Top, bottom: p2Bottom, right: p2Right, eyes: p2Eyes, tips: p2Tips, rings: p2Rings, specks: p2Specks.concat(p2Cluster), rim: p2Rim,
    eyeRadius: 11, tipRadius: 5, power: '-8.49dBm', powerAt: [24.066, -27.7] });
drawPanel('c3', { left: true, bottomAt: 414, hideBottomVolt: true, top: p3Top, bottom: p3Bottom, right: p3Right, eyes: p3Eyes, tips: p3Tips, rings: p3Rings, specks: p3Specks.concat(p3Cluster), rim: p3Rim,
    eyeRadius: 9, tipRadius: 4, power: '-9.44dBm', powerAt: [24.0634, -27.5], timeAt: 24.328, voltAt: -1.8 });
drawPanel('c4', { left: false, bottomAt: 414, top: p4Top, bottom: p4Bottom, right: p4Right, eyes: p4Eyes, tips: p4Tips, rings: p4Rings, specks: p4Specks.concat(p4Cluster), rim: p4Rim,
    eyeRadius: 5, tipRadius: 1.6, power: '-10.44dBm', powerAt: [24.06, -27.4], timeAt: 24.304 });
</script>
</body>
</html>
